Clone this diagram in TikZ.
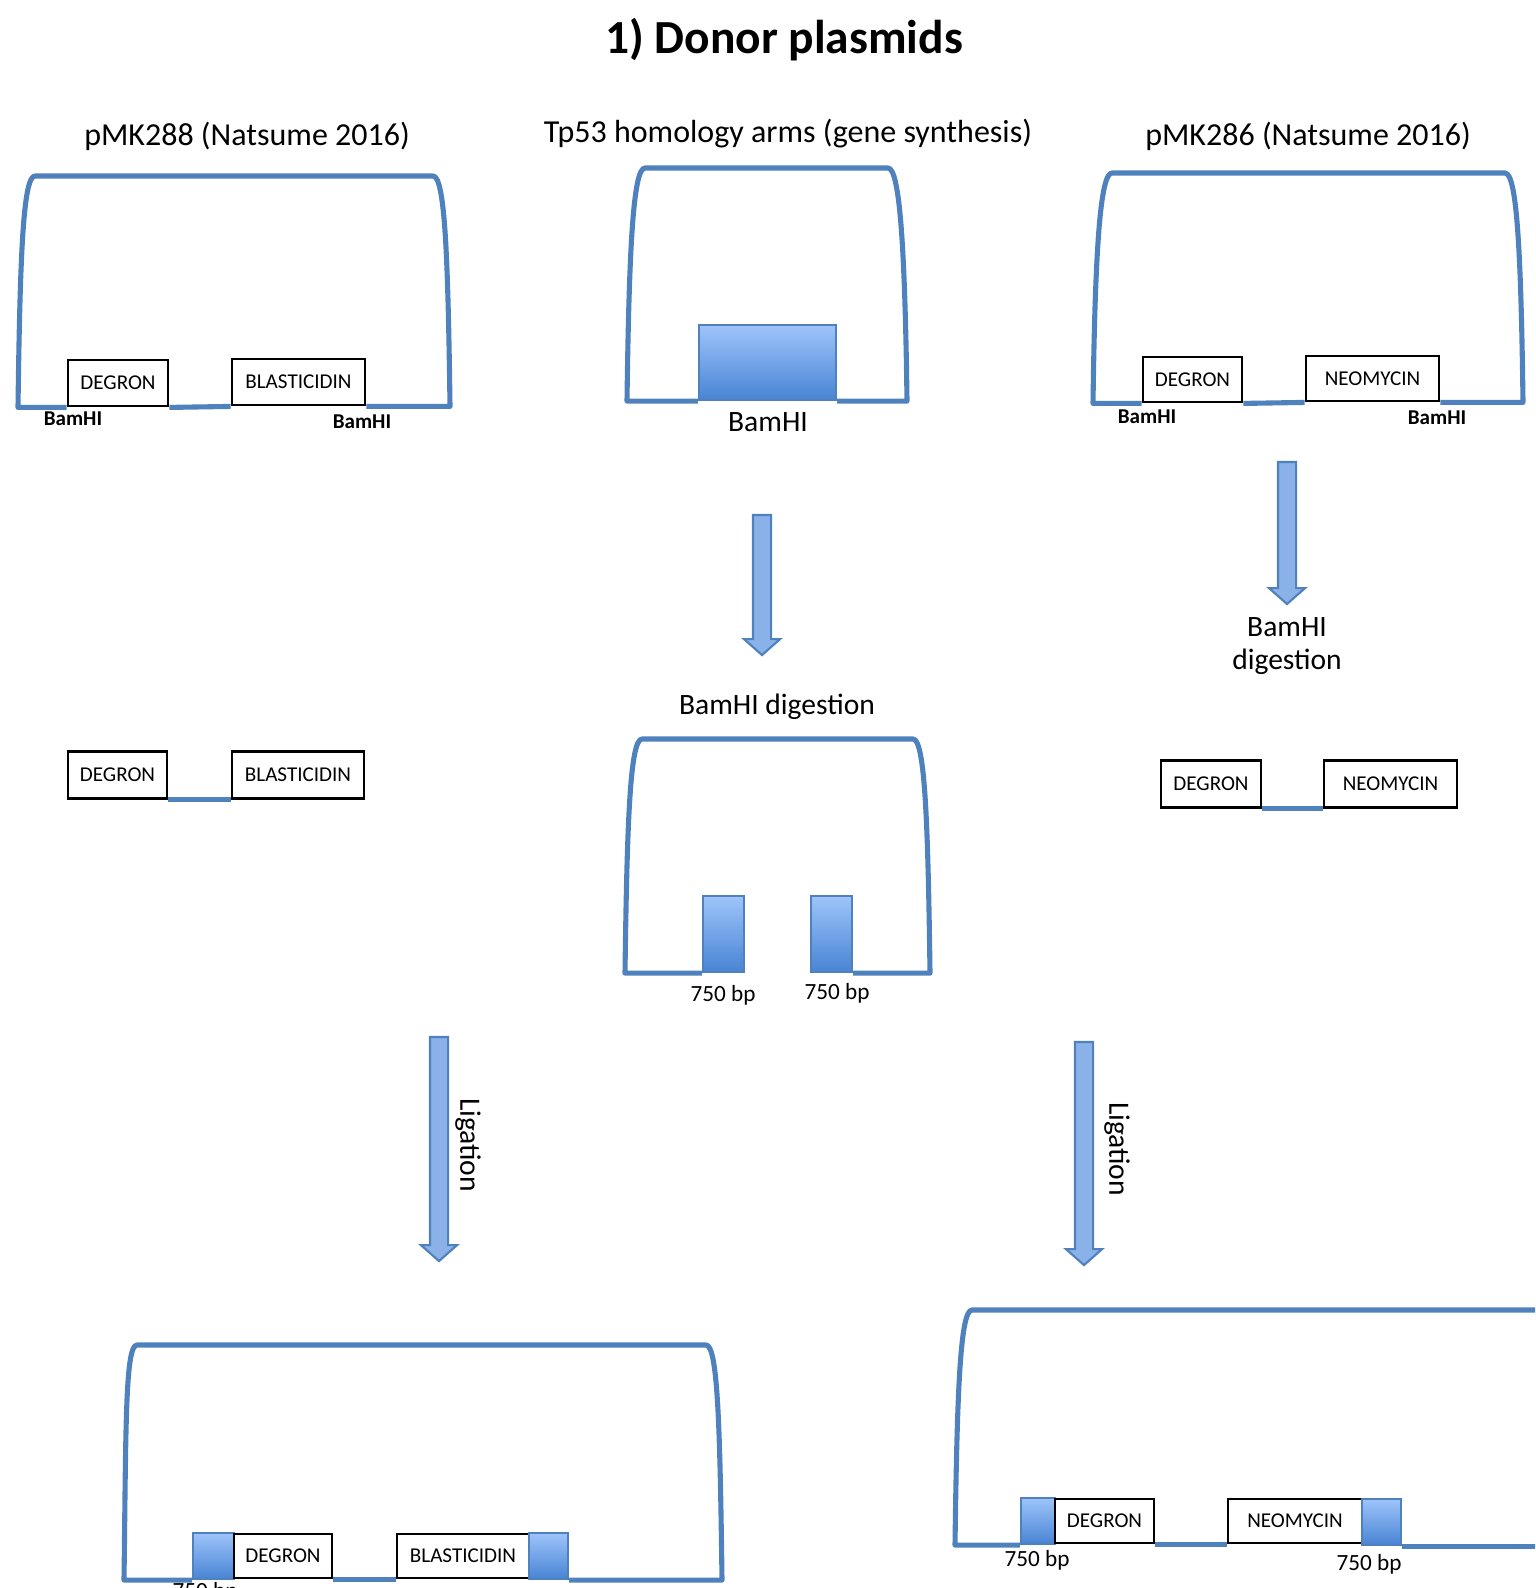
\documentclass[tikz,border=0pt]{standalone}
\usepackage{fontspec}
\setmainfont{Carlito}
\usetikzlibrary{shapes.arrows}
\definecolor{plasblue}{RGB}{79,129,189}
\definecolor{armtop}{RGB}{158,196,250}
\definecolor{armbot}{RGB}{72,132,212}
\definecolor{flowfill}{RGB}{138,178,232}
\begin{document}
\begin{tikzpicture}[x=0.01cm, y=-0.01cm,
	plasmid/.style={draw=plasblue, line width=1.45pt, line join=round},
	gene/.style={draw=black, line width=0.8pt, fill=white, inner sep=0pt, font=\fontsize{6}{7}\selectfont},
	arm/.style={draw=plasblue, line width=0.6pt, top color=armtop, bottom color=armbot, inner sep=0pt},
	flow/.style={single arrow, draw=plasblue, line width=0.6pt, fill=flowfill, rotate=-90, inner xsep=0pt, inner ysep=0.08cm, single arrow head extend=0.09cm, single arrow tip angle=97, minimum width=0pt},
	head/.style={font=\fontsize{9.1}{11}\selectfont},
	lbl/.style={font=\fontsize{8.4}{9.5}\selectfont},
	site/.style={font=\fontsize{6}{7}\selectfont\bfseries},
	bp/.style={font=\fontsize{6.6}{8}\selectfont}]
	\useasboundingbox (0,0) rectangle (1535,1588);
	\clip (0,0) rectangle (1535,1588);
	
	\node[font=\fontsize{13.5}{16}\selectfont\bfseries] (title) at (784,40) {1) Donor plasmids};
	
	% Spenderplasmide
	\node[head] (t288) at (247,136) {pMK288 (Natsume 2016)};
	\node[head] (t53) at (788,134) {Tp53 homology arms (gene synthesis)};
	\node[head] (t286) at (1308,136) {pMK286 (Natsume 2016)};
	
	\node[gene, minimum width=1cm, minimum height=0.46cm] (deg288) at (118,383) {DEGRON};
	\node[gene, minimum width=1.33cm, minimum height=0.46cm] (bla288) at (298.5,382) {BLASTICIDIN};
	\draw[plasmid] (deg288.south west) -- (18,0 |- deg288.south west) .. controls +(2,-150) and +(-12,0) .. (35,176) -- (433,176) .. controls +(12,0) and +(-2,-150) .. (450,0 |- bla288.south east) -- (bla288.south east);
	\draw[plasmid] (deg288.south east) -- (bla288.south west);
	\node[site] (bam288a) at (73,419) {BamHI};
	\node[site] (bam288b) at (362,422) {BamHI};
	
	\node[arm, minimum width=1.37cm, minimum height=0.75cm] (arm53) at (767.5,362.5) {};
	\draw[plasmid] (arm53.south west) -- (627,0 |- arm53.south west) .. controls +(2,-150) and +(-12,0) .. (645,168) -- (888,168) .. controls +(12,0) and +(-2,-150) .. (907,0 |- arm53.south east) -- (arm53.south east);
	\node[lbl] (bam53) at (768,422) {BamHI};
	
	\node[gene, minimum width=0.99cm, minimum height=0.45cm] (deg286) at (1192.5,379.5) {DEGRON};
	\node[gene, minimum width=1.33cm, minimum height=0.45cm] (neo286) at (1372.5,378.5) {NEOMYCIN};
	\draw[plasmid] (deg286.south west) -- (1093,0 |- deg286.south west) .. controls +(2,-150) and +(-12,0) .. (1112,173) -- (1505,173) .. controls +(12,0) and +(-2,-150) .. (1523,0 |- neo286.south east) -- (neo286.south east);
	\draw[plasmid] (deg286.south east) -- (neo286.south west);
	\node[site] (bam286a) at (1147,417) {BamHI};
	\node[site] (bam286b) at (1437,418) {BamHI};
	
	% Verdau
	\node[flow, minimum height=1.4cm] (cut53) at (762,581) {};
	\node[flow, minimum height=1.42cm] (cut286) at (1287,529) {};
	\node[lbl] (dig53) at (777,707) {BamHI digestion};
	\node[lbl, align=center] (dig286) at (1287,646) {BamHI\\digestion};
	
	\node[arm, minimum width=0.41cm, minimum height=0.76cm] (armL) at (723.5,934) {};
	\node[arm, minimum width=0.41cm, minimum height=0.76cm] (armR) at (831.5,934) {};
	\draw[plasmid] (armL.south west) -- (625,0 |- armL.south west) .. controls +(2,-150) and +(-12,0) .. (642,739) -- (913,739) .. controls +(12,0) and +(-2,-150) .. (930,0 |- armR.south east) -- (armR.south east);
	\node[bp] (bpL) at (723,995) {750 bp};
	\node[bp] (bpR) at (837,993) {750 bp};
	
	\node[gene, minimum width=0.99cm, minimum height=0.47cm] (degA) at (117.5,775) {DEGRON};
	\node[gene, minimum width=1.32cm, minimum height=0.47cm] (blaA) at (298,775) {BLASTICIDIN};
	\draw[plasmid] (degA.south east) -- (blaA.south west);
	
	\node[gene, minimum width=1cm, minimum height=0.47cm] (degB) at (1211,784) {DEGRON};
	\node[gene, minimum width=1.33cm, minimum height=0.47cm] (neoB) at (1390.5,784) {NEOMYCIN};
	\draw[plasmid] (degB.south east) -- (neoB.south west);
	
	% Ligation
	\node[flow, minimum height=2.24cm] (lig288) at (439,1145) {};
	\node[lbl, rotate=-90] (lig288t) at (468,1145) {Ligation};
	\node[flow, minimum height=2.23cm] (lig286) at (1084,1149.5) {};
	\node[lbl, rotate=-90] (lig286t) at (1117,1149) {Ligation};
	
	% Produkte
	\node[arm, minimum width=0.41cm, minimum height=0.46cm] (armE1) at (213.5,1556) {};
	\node[gene, minimum width=0.98cm, minimum height=0.44cm] (degE) at (283,1556) {DEGRON};
	\node[gene, minimum width=1.32cm, minimum height=0.44cm] (blaE) at (463,1556) {BLASTICIDIN};
	\node[arm, minimum width=0.39cm, minimum height=0.46cm] (armE2) at (548.5,1556) {};
	\draw[plasmid] (armE1.south west) -- (124,0 |- armE1.south west) .. controls +(2,-150) and +(-12,0) .. (137,1345) -- (706,1345) .. controls +(12,0) and +(-2,-150) .. (722,0 |- armE2.south east) -- (armE2.south east);
	\draw[plasmid] (degE.south east) -- (blaE.south west);
	\node[bp] (bpE) at (205,1592) {750 bp};
	
	\node[arm, minimum width=0.34cm, minimum height=0.46cm] (armF1) at (1038,1521) {};
	\node[gene, minimum width=0.99cm, minimum height=0.44cm] (degF) at (1104.5,1521) {DEGRON};
	\node[gene, minimum width=1.34cm, minimum height=0.44cm] (neoF) at (1295,1521) {NEOMYCIN};
	\node[arm, minimum width=0.39cm, minimum height=0.46cm] (armF2) at (1381.5,1522) {};
	\draw[plasmid] (armF1.south west) -- (955,0 |- armF1.south west) .. controls +(2,-150) and +(-12,0) .. (972,1310) -- (1545,1310);
	\draw[plasmid] (armF2.south east) -- (1545,0 |- armF2.south east);
	\draw[plasmid] (degF.south east) -- (neoF.south west);
	\node[bp] (bpF1) at (1037,1560) {750 bp};
	\node[bp] (bpF2) at (1369,1564) {750 bp};
\end{tikzpicture}
\end{document}
